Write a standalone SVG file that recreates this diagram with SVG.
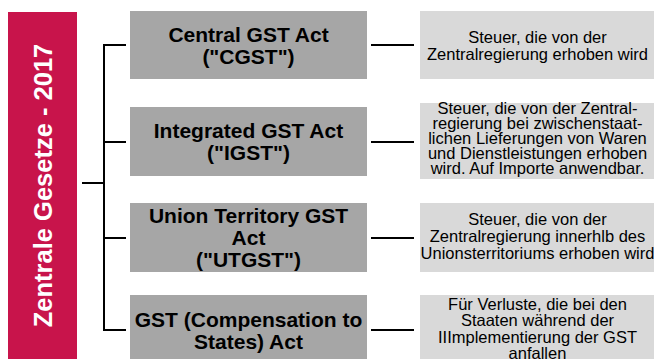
<svg xmlns="http://www.w3.org/2000/svg" width="654" height="359" viewBox="0 0 654 359">
<style>
.act{fill:#a6a6a6}
.desc{fill:#d9d9d9}
.at{font-family:"Liberation Sans",Arial,sans-serif;font-weight:bold;font-size:21px;fill:#000;text-anchor:middle}
.dt{font-family:"Liberation Sans",Arial,sans-serif;font-size:16.5px;fill:#000;text-anchor:middle}
.ln{stroke:#000;stroke-width:2;fill:none}
</style>
<rect width="654" height="359" fill="#fff"/>
<g id="title">
<rect x="8" y="12" width="69" height="347" fill="#c8144b"/>
<text transform="translate(51.5,185.5) rotate(-90)" font-family="Liberation Sans, Arial, sans-serif" font-weight="bold" font-size="25.5" fill="#fff" text-anchor="middle">Zentrale Gesetze - 2017</text>
</g>
<g id="connectors">
<path class="ln" d="M82 183H104M104 44V331M103 45H126M103 142H126M103 238H126M103 330H126"/>
<path class="ln" d="M371 45H414M371 142H414M371 238H414M371 330H414"/>
</g>
<g id="cgst">
<rect class="act" x="130" y="11" width="237" height="68"/>
<text class="at" x="248.5"><tspan x="248.5" y="41.5">Central GST Act</tspan><tspan x="248.5" y="64">("CGST")</tspan></text>
</g>
<g id="igst">
<rect class="act" x="130" y="107" width="237" height="69"/>
<text class="at"><tspan x="248.5" y="137.5">Integrated GST Act</tspan><tspan x="248.5" y="160">("IGST")</tspan></text>
</g>
<g id="utgst">
<rect class="act" x="130" y="203" width="237" height="69"/>
<text class="at"><tspan x="248.5" y="223">Union Territory GST</tspan><tspan x="248.5" y="245">Act</tspan><tspan x="248.5" y="267">("UTGST")</tspan></text>
</g>
<g id="comp">
<rect class="act" x="130" y="295" width="237" height="64"/>
<text class="at"><tspan x="248.5" y="326.5">GST (Compensation to</tspan><tspan x="248.5" y="348.5">States) Act</tspan></text>
</g>
<g id="desc-cgst">
<rect class="desc" x="420" y="11" width="234" height="68"/>
<text class="dt"><tspan x="537.5" y="42.5">Steuer, die von der</tspan><tspan x="537.5" y="59.5">Zentralregierung erhoben wird</tspan></text>
</g>
<g id="desc-igst">
<rect class="desc" x="420" y="103" width="234" height="76"/>
<text class="dt"><tspan x="537.5" y="113.5">Steuer, die von der Zentral-</tspan><tspan x="537.5" y="128.5">regierung bei zwischenstaat-</tspan><tspan x="537.5" y="143.5">lichen Lieferungen von Waren</tspan><tspan x="537.5" y="158.5">und Dienstleistungen erhoben</tspan><tspan x="537.5" y="173.5">wird. Auf Importe anwendbar.</tspan></text>
</g>
<g id="desc-utgst">
<rect class="desc" x="420" y="203" width="234" height="69"/>
<text class="dt"><tspan x="537.5" y="224.5">Steuer, die von der</tspan><tspan x="537.5" y="241.5">Zentralregierung innerhlb des</tspan><tspan x="537.5" y="258.5">Unionsterritoriums erhoben wird</tspan></text>
</g>
<g id="desc-comp">
<rect class="desc" x="420" y="295" width="234" height="64"/>
<text class="dt"><tspan x="537.5" y="309.5">Für Verluste, die bei den</tspan><tspan x="537.5" y="326">Staaten während der</tspan><tspan x="537.5" y="342.5">IIImplementierung der GST</tspan><tspan x="537.5" y="359">anfallen</tspan></text>
</g>
</svg>
